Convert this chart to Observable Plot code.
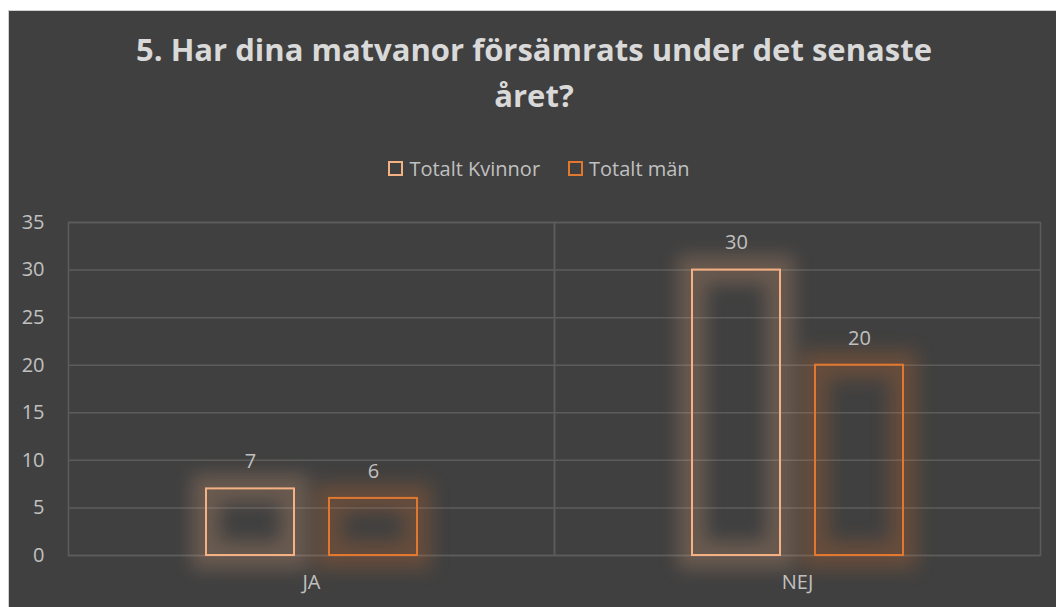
<!DOCTYPE html>
<html>
<head>
<meta charset="utf-8">
<script src="https://cdn.jsdelivr.net/npm/d3@7"></script>
<script src="https://cdn.jsdelivr.net/npm/@observablehq/plot@0.6"></script>
<style>
  body { margin: 0; background: #ffffff; }
  #page { position: relative; width: 1056px; height: 607px; overflow: hidden; background: #ffffff; font-family: "Open Sans", sans-serif; }
  #panel { position: absolute; left: 8px; top: 10px; width: 1048px; height: 597px; background: #404040; border-left: 1px solid #d0d0d0; border-top: 1px solid #d0d0d0; box-sizing: border-box; }
  #title { position: absolute; left: 0; top: 26px; width: 1068px; text-align: center; color: #d9d9d9; font-weight: bold; font-size: 31px; line-height: 46px; }
  #legend { position: absolute; top: 155px; left: 0; width: 1078px; display: flex; justify-content: center; gap: 28px; color: #c0c0c0; font-size: 20px; }
  #legend .item { display: flex; align-items: center; gap: 6px; }
  #legend .sw { width: 11px; height: 11px; border: 2px solid; }
  #chart { position: absolute; left: 0; top: 200px; }
  #chart svg text { font-size: 20px; }
</style>
</head>
<body>
<div id="page">
  <div id="panel"></div>
  <div id="title">5. Har dina matvanor försämrats under det senaste<br>året?</div>
  <div id="legend"></div>
  <div id="chart"></div>
</div>
<script>
const categories = ["JA", "NEJ"];
const series = ["Totalt Kvinnor", "Totalt män"];
const kvinnor = [7, 30];
const man = [6, 20];
const colors = ["#f4b183", "#e2772f"];
const yTicks = [0, 5, 10, 15, 20, 25, 30, 35];

const data = categories.flatMap((c, i) => [
  {cat: c, series: series[0], value: kvinnor[i]},
  {cat: c, series: series[1], value: man[i]}
]);

const legend = document.getElementById("legend");
series.forEach((s, i) => {
  const item = document.createElement("div");
  item.className = "item";
  const sw = document.createElement("span");
  sw.className = "sw";
  sw.style.borderColor = colors[i];
  const t = document.createElement("span");
  t.textContent = s;
  item.appendChild(sw);
  item.appendChild(t);
  legend.appendChild(item);
});

const chart = Plot.plot({
  width: 1056,
  height: 407,
  marginLeft: 68,
  marginRight: 16,
  marginTop: 22,
  marginBottom: 52,
  style: {background: "transparent", color: "#c0c0c0", fontFamily: "Open Sans, sans-serif", fontSize: "20px", overflow: "visible"},
  fx: {domain: categories, padding: 0, label: null},
  x: {domain: series, paddingInner: 0.285, paddingOuter: 1.118, axis: null},
  y: {domain: [0, 35], label: null},
  color: {domain: series, range: colors},
  marks: [
    Plot.ruleY(yTicks, {stroke: "#5c5c5c", strokeWidth: 1.5}),
    Plot.frame({stroke: "#5c5c5c", strokeWidth: 1.5}),
    Plot.axisY(yTicks, {tickSize: 0, tickPadding: 24, fontSize: 20, fill: "#c0c0c0", label: null}),
    Plot.axisFx({anchor: "bottom", tickSize: 0, tickPadding: 19, fontSize: 20, fill: "#c0c0c0", label: null}),
    Plot.barY(data, {fx: "cat", x: "series", y: "value", fill: "none", stroke: "series", strokeWidth: 28, strokeOpacity: 0.24, imageFilter: "blur(9px)"}),
    Plot.barY(data, {fx: "cat", x: "series", y: "value", fill: "none", stroke: "series", strokeWidth: 2}),
    Plot.text(data, {fx: "cat", x: "series", y: "value", text: d => String(d.value), dy: -27, fill: "#c0c0c0", fontSize: 20})
  ]
});
d3.select(chart).selectAll("text").style("font-size", "20px");
document.getElementById("chart").appendChild(chart);
</script>
</body>
</html>
